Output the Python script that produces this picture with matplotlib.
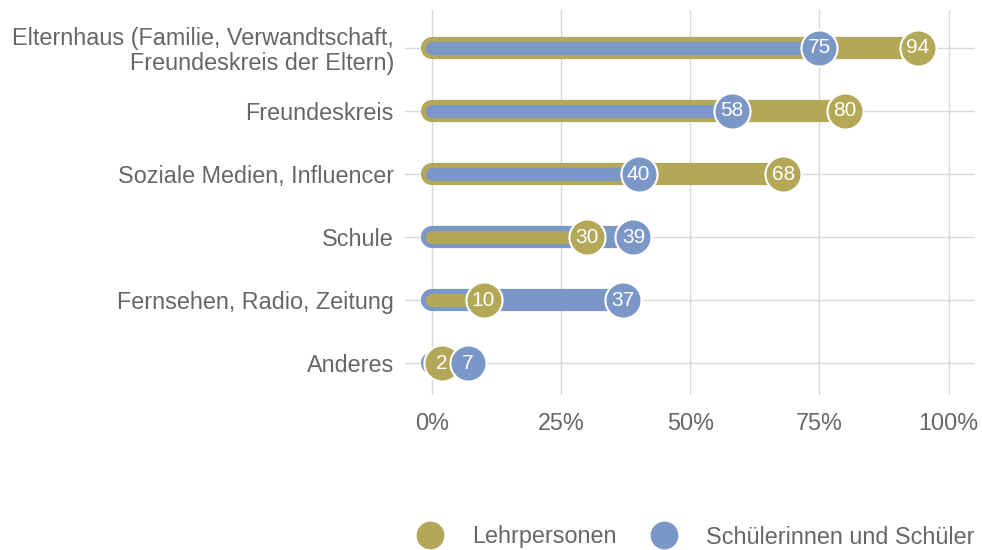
import matplotlib
matplotlib.use("Agg")
import matplotlib.pyplot as plt
from matplotlib.lines import Line2D

categories = ["Elternhaus (Familie, Verwandtschaft,\nFreundeskreis der Eltern)",
              "Freundeskreis", "Soziale Medien, Influencer", "Schule",
              "Fernsehen, Radio, Zeitung", "Anderes"]
lehr = [94, 80, 68, 30, 10, 2]
schueler = [75, 58, 40, 39, 37, 7]
series_names = ["Lehrpersonen", "Schülerinnen und Schüler"]
xticks = [0, 25, 50, 75, 100]
xticklabels = ["0%", "25%", "50%", "75%", "100%"]

GOLD = "#b3a857"
BLUE = "#7b97c8"
TXT = "#666666"
GRID = "#d9d9d9"

plt.rcParams['font.family'] = ['Liberation Sans', 'DejaVu Sans']
FS = 16.8

fig = plt.figure(figsize=(9.82, 5.5), dpi=100)
ax = fig.add_axes([405/982, 1-395/550, 570/982, 385/550])

ys = list(range(len(categories)))
for y, a, b in zip(ys, lehr, schueler):
    if a >= b:
        big, bc, small, sc = a, GOLD, b, BLUE
    else:
        big, bc, small, sc = b, BLUE, a, GOLD
    ax.plot([0, big], [y, y], color=bc, lw=16, solid_capstyle='round', zorder=3)
    ax.plot([0, small], [y, y], color=sc, lw=9.5, solid_capstyle='round', zorder=4)

for vals, col, z in [(lehr, GOLD, 5), (schueler, BLUE, 6)]:
    for y, v in zip(ys, vals):
        ax.plot([v], [y], 'o', ms=26, color=col, mec='white', mew=1.5, zorder=z)
        ax.text(v, y, str(v), color='white', ha='center', va='center',
                fontsize=15, zorder=z)

ax.set_xlim(-5.2, 105.1)
ax.set_ylim(5.5, -0.6)
ax.set_yticks(ys)
ax.set_yticklabels(categories, fontsize=FS, color=TXT, linespacing=1.1)
ax.set_xticks(xticks)
ax.set_xticklabels(xticklabels, fontsize=FS, color=TXT)
ax.tick_params(axis='y', length=0, pad=8)
ax.tick_params(axis='x', length=0, pad=12)
ax.grid(True, color=GRID, lw=1)
ax.set_axisbelow(True)
for s in ax.spines.values():
    s.set_visible(False)

handles = [Line2D([], [], ls='none', marker='o', ms=19, color=c, mec=c)
           for c in (GOLD, BLUE)]
leg = fig.legend(handles, series_names, loc='center right',
                 bbox_to_anchor=(988/982, 1-537/550), ncol=2, frameon=False,
                 fontsize=FS, handletextpad=0.8, columnspacing=1.0,
                 borderaxespad=0.2)
for t in leg.get_texts():
    t.set_color(TXT)

fig.savefig("out.png", dpi=100)
